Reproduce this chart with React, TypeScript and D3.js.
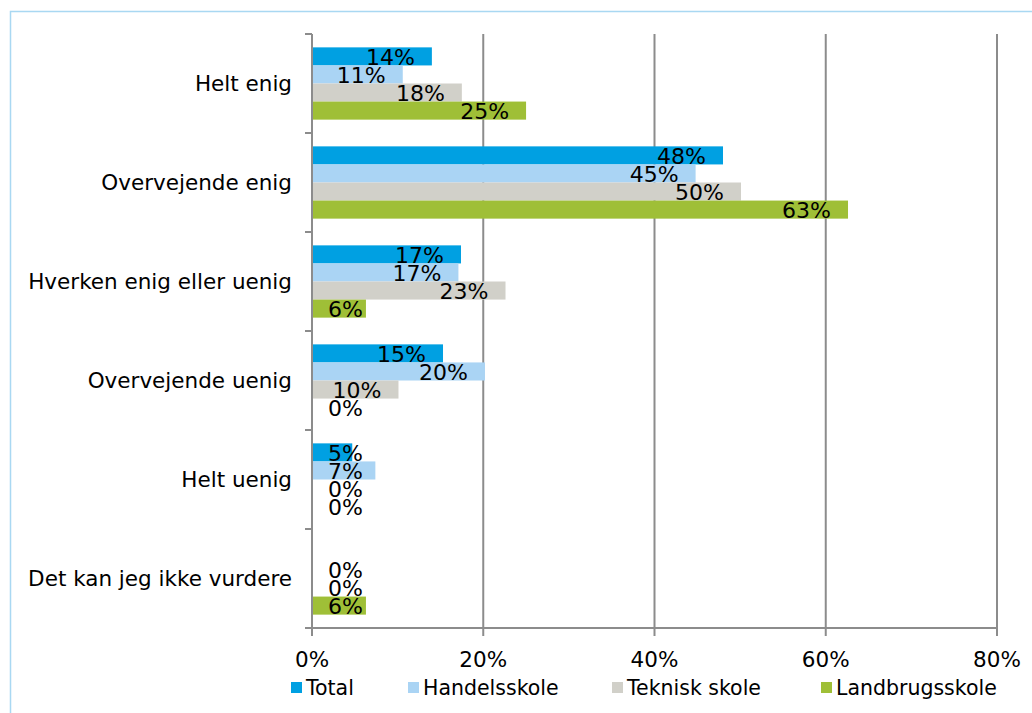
import React from "react";
import * as d3 from "d3";

const categories = [
  "Helt enig",
  "Overvejende enig",
  "Hverken enig eller uenig",
  "Overvejende uenig",
  "Helt uenig",
  "Det kan jeg ikke vurdere",
];
const seriesNames = ["Total", "Handelsskole", "Teknisk skole", "Landbrugsskole"];
const seriesColors = ["#00a0e2", "#aad4f4", "#d1d0c9", "#9fbf37"];
const total: (number | null)[] = [14.0, 48.0, 17.4, 15.3, 4.7, null];
const handelsskole: (number | null)[] = [10.6, 44.8, 17.1, 20.2, 7.4, 0];
const teknisk: (number | null)[] = [17.5, 50.1, 22.6, 10.1, 0, 0];
const landbrug: (number | null)[] = [25.0, 62.6, 6.3, 0, 0, 6.3];
const xTicks = [0, 20, 40, 60, 80];
const legendX = [291, 408, 612, 821];

const FONT = "'DejaVu Sans', Verdana, sans-serif";

export default function App() {
  const W = 1032, H = 713;
  const left = 312, right = 997, top = 34, bottom = 628;
  const x = d3.scaleLinear().domain([0, 80]).range([left, right]);
  const y0 = d3.scaleBand<string>().domain(categories).range([top, bottom]).paddingInner(0.27).paddingOuter(0.135);
  const y1 = d3.scaleBand<string>().domain(seriesNames).range([0, y0.bandwidth()]);
  const data = [total, handelsskole, teknisk, landbrug];
  const step = y0.step();
  const boundaries = d3.range(categories.length + 1).map((i) => top + i * step);

  return (
    <svg width={W} height={H} style={{ position: "absolute", left: 0, top: 0, background: "#fff" }} fontFamily={FONT}>
      <rect x={10.5} y={11.5} width={1100} height={800} fill="none" stroke="#a9d8f2" strokeWidth={1.5} />
      {xTicks.slice(1).map((t) => (
        <line key={t} x1={x(t)} x2={x(t)} y1={top} y2={bottom + 8} stroke="#8c8c8c" strokeWidth={2} />
      ))}
      {categories.map((c, ci) =>
        data.map((s, si) => {
          const v = s[ci];
          if (v === null) return null;
          const yy = (y0(c) as number) + (y1(seriesNames[si]) as number);
          const h = y1.bandwidth();
          const tx = Math.max(x(v) - 17, 363);
          return (
            <g key={c + si}>
              {v > 0 && <rect x={left} y={yy} width={x(v) - left} height={h} fill={seriesColors[si]} />}
              <text x={tx} y={yy + h / 2 + 1} textAnchor="end" dominantBaseline="central" fontSize={22} fill="#000">
                {Math.round(v)}%
              </text>
            </g>
          );
        })
      )}
      <line x1={left} x2={left} y1={top} y2={bottom} stroke="#8c8c8c" strokeWidth={2} />
      <line x1={left} x2={right + 1} y1={bottom} y2={bottom} stroke="#8c8c8c" strokeWidth={2} />
      {boundaries.map((b, i) => (
        <line key={i} x1={left - 7} x2={left} y1={b} y2={b} stroke="#8c8c8c" strokeWidth={2} />
      ))}
      <line x1={left} x2={left} y1={bottom} y2={bottom + 8} stroke="#8c8c8c" strokeWidth={2} />
      {categories.map((c) => (
        <text key={c} x={292} y={(y0(c) as number) + y0.bandwidth() / 2} textAnchor="end" dominantBaseline="central" fontSize={21.5} fill="#000">
          {c}
        </text>
      ))}
      {xTicks.map((t) => (
        <text key={t} x={x(t)} y={659} textAnchor="middle" dominantBaseline="central" fontSize={21.5} fill="#000">
          {t}%
        </text>
      ))}
      {seriesNames.map((n, i) => (
        <g key={n}>
          <rect x={legendX[i]} y={682} width={11} height={11} fill={seriesColors[i]} />
          <text x={legendX[i] + 15} y={688} dominantBaseline="central" fontSize={20.5} fill="#000">
            {n}
          </text>
        </g>
      ))}
    </svg>
  );
}
